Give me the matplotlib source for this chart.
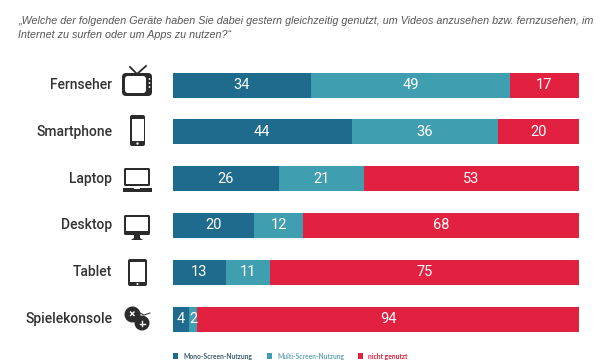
# Geräte-Nutzung: gestapelte Balken mit Icons
import matplotlib
matplotlib.use('Agg')
import matplotlib.pyplot as plt
from matplotlib.patches import Rectangle, FancyBboxPatch, Circle, Polygon

geraete = ['Fernseher', 'Smartphone', 'Laptop', 'Desktop', 'Tablet', 'Spielekonsole']
mono = [34, 44, 26, 20, 13, 4]
multi = [49, 36, 21, 12, 11, 2]
nicht = [17, 20, 53, 68, 75, 94]
# Tablet summiert sich nur auf 99, der Balken geht trotzdem bis 100
nicht_balken = [17, 20, 53, 68, 76, 94]
legende = ['Mono-Screen-Nutzung', 'Multi-Screen-Nutzung', 'nicht genutzt']

farbe_mono = '#1f6b8e'
farbe_multi = '#3f9fb1'
farbe_nicht = '#e2203f'
dunkel = '#2b2b2b'

W, H = 616, 364
fig = plt.figure(figsize=(W / 100, H / 100), dpi=100)

# Balken
ax = fig.add_axes([173 / W, 1 - 342.4 / H, 406 / W, 280.8 / H])
y = list(range(len(geraete)))
hoehe = 25 / 46.8
ax.barh(y, mono, height=hoehe, color=farbe_mono)
links = [a + b for a, b in zip(mono, multi)]
ax.barh(y, multi, left=mono, height=hoehe, color=farbe_multi)
ax.barh(y, nicht_balken, left=links, height=hoehe, color=farbe_nicht)
ax.set_xlim(0, 100)
ax.set_ylim(5.5, -0.5)
ax.axis('off')

for i in y:
    ax.text(mono[i] / 2, i, str(mono[i]), color='white', ha='center', va='center',
            fontsize=10.5, family='Roboto')
    ax.text(mono[i] + multi[i] / 2, i, str(multi[i]), color='white', ha='center', va='center',
            fontsize=10.5, family='Roboto')
    ax.text(links[i] + nicht_balken[i] / 2, i, str(nicht[i]), color='white', ha='center',
            va='center', fontsize=10.5, family='Roboto')
    ax.text(-15, i, geraete[i], color='#333333', ha='right', va='center',
            fontsize=10, family='Roboto', weight='medium')

# Overlay in Pixeln für Icons, Titel, Legende
ov = fig.add_axes([0, 0, 1, 1], zorder=5)
ov.set_xlim(0, W)
ov.set_ylim(H, 0)
ov.axis('off')
ov.patch.set_alpha(0)

ov.text(18, 20.5, '„Welche der folgenden Geräte haben Sie dabei gestern gleichzeitig genutzt, um Videos anzusehen bzw. fernzusehen, im',
        fontsize=7.75, style='italic', color='#555555', family='Liberation Sans', va='center')
ov.text(18, 34.5, 'Internet zu surfen oder um Apps zu nutzen?“',
        fontsize=7.75, style='italic', color='#555555', family='Liberation Sans', va='center')


def rbox(x, y, w, h, r, **kw):
    ov.add_patch(FancyBboxPatch((x + r, y + r), w - 2 * r, h - 2 * r,
                                boxstyle='round,pad=%f,rounding_size=%f' % (r, r), **kw))


# Fernseher
ov.plot([137, 130], [74, 67], color=dunkel, lw=1.3)
ov.plot([137, 146], [74, 66], color=dunkel, lw=1.3)
rbox(122, 73, 30, 23, 4, fc=dunkel, ec='none')
rbox(125, 76, 21, 17, 3, fc='white', ec='none')
for py in [79, 83, 87]:
    ov.add_patch(Circle((149.5, py), 0.9, fc='white', ec='none'))

# Smartphone
rbox(130, 115, 15, 31, 2, fc=dunkel, ec='none')
ov.add_patch(Rectangle((131.5, 119), 12, 22, fc='white', ec='none'))
ov.add_patch(Circle((137.5, 143.5), 1.2, fc='white', ec='none'))

# Laptop
rbox(124, 168, 26, 18, 1.5, fc=dunkel, ec='none')
ov.add_patch(Rectangle((126, 170), 22, 14, fc='white', ec='none'))
ov.add_patch(Rectangle((123, 188), 29, 4, fc=dunkel, ec='none'))
ov.add_patch(Rectangle((134, 188), 6, 1.4, fc='white', ec='none'))

# Desktop
rbox(124, 215, 26, 20, 1.5, fc=dunkel, ec='none')
ov.add_patch(Rectangle((126, 217), 22, 14, fc='white', ec='none'))
ov.add_patch(Polygon([(134, 235), (140, 235), (140, 238), (143, 240), (131, 240), (134, 238)],
                     fc=dunkel, ec='none'))

# Tablet
rbox(128, 259, 19, 27, 2, fc=dunkel, ec='none')
ov.add_patch(Rectangle((130, 262), 15, 20, fc='white', ec='none'))
ov.add_patch(Circle((137.5, 284), 1, fc='white', ec='none'))

# Spielekonsole
ov.add_patch(Circle((132.5, 314.5), 8, fc=dunkel, ec='none'))
ov.add_patch(Circle((142, 323), 7.5, fc=dunkel, ec='none', zorder=3))
ov.plot([130.5, 134], [312, 315.5], color='white', lw=1, zorder=4)
ov.plot([130.5, 134], [315.5, 312], color='white', lw=1, zorder=4)
ov.plot([139.5, 144.5], [323.5, 323.5], color='white', lw=1, zorder=4)
ov.plot([142, 142], [321, 326], color='white', lw=1, zorder=4)
ov.plot([140, 144, 150], [313, 315, 313], color=dunkel, lw=0.7)

# Legende
leg_x = [173, 267, 358]
leg_farben = [farbe_mono, farbe_multi, farbe_nicht]
leg_text = ['#3d5f73', '#6aa5b3', farbe_nicht]
for x0, name, fb, tf in zip(leg_x, legende, leg_farben, leg_text):
    ov.add_patch(Rectangle((x0, 353), 5, 5.5, fc=fb, ec='none'))
    ov.text(x0 + 10, 356, name, fontsize=4.9, color=tf, va='center', family='Lato', weight='bold')

fig.savefig('out.png', dpi=100, facecolor='white')
